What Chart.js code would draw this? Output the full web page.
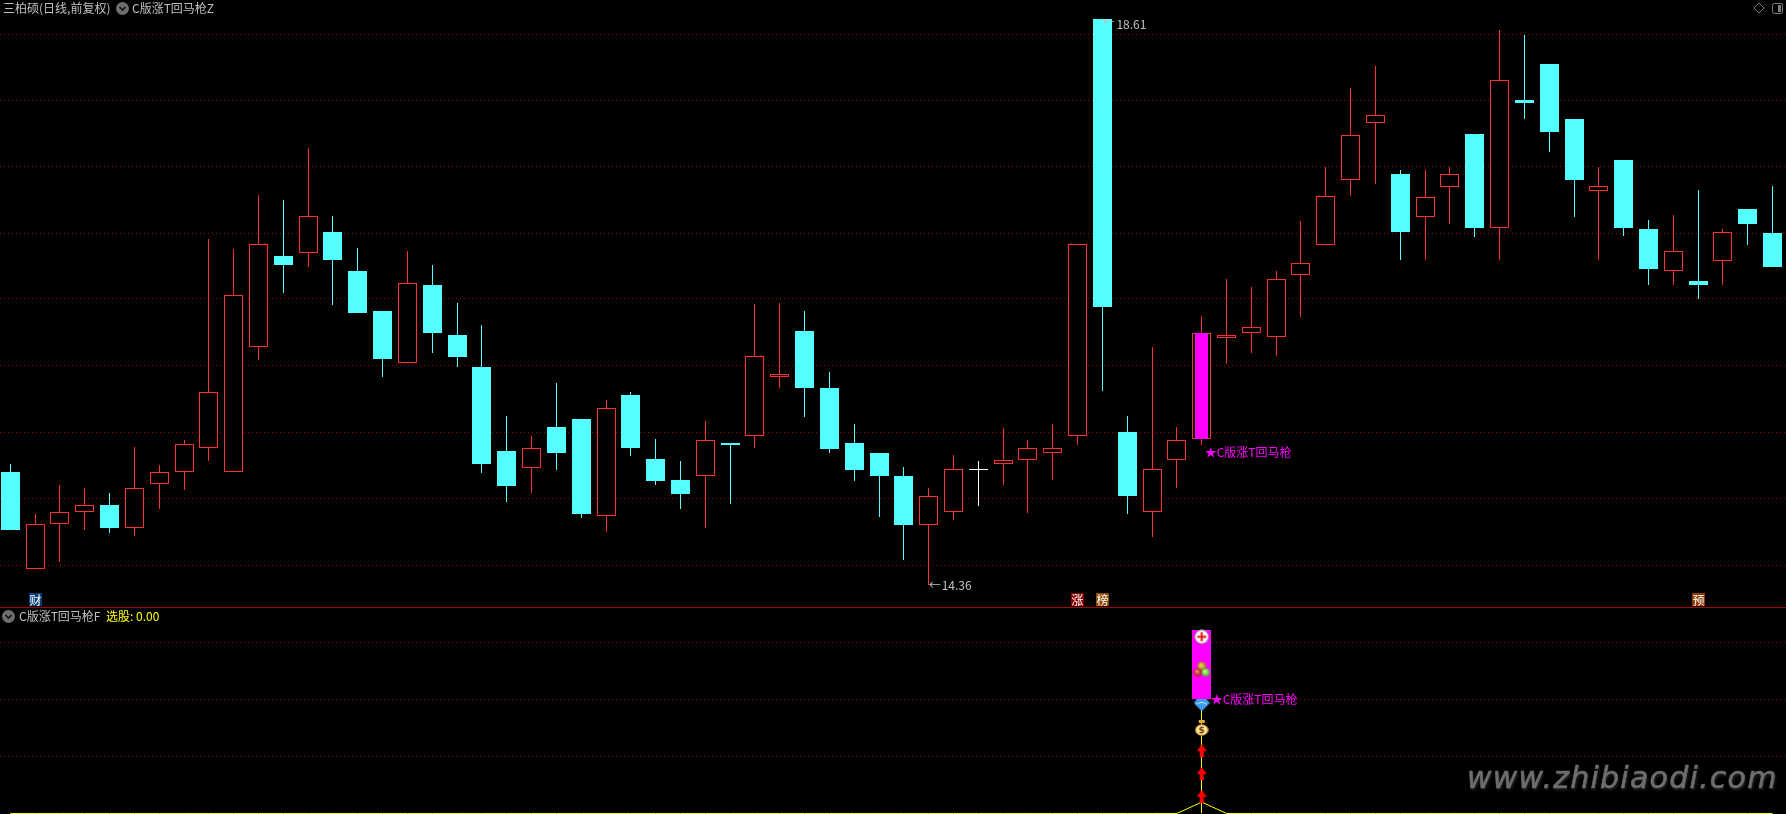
<!DOCTYPE html>
<html>
<head>
<meta charset="utf-8">
<title>C版涨T回马枪</title>
<script src="https://cdn.jsdelivr.net/npm/chart.js@4/dist/chart.umd.min.js"></script>
<style>
  html, body { margin: 0; padding: 0; background: #000; overflow: hidden; }
  #page { position: relative; width: 1786px; height: 814px; background: #000; font: 12px "Noto Sans CJK SC", sans-serif; color: #c0c0c0; }
  .box { position: absolute; left: 0; width: 1786px; }
  #boxTop { top: 0; height: 607px; }
  #boxBottom { top: 608px; height: 206px; }
  #separator { position: absolute; left: 0; top: 607px; width: 1786px; height: 1px; background: #a00000; }
  .title { position: absolute; white-space: nowrap; line-height: 16px; }
  .chip { position: absolute; width: 13px; height: 13px; border-radius: 50%; background: #6e6e6e; }
  .chip svg { display: block; }
  #watermark { position: absolute; left: 1467px; top: 760px; font: italic 30px/36px "DejaVu Sans", sans-serif; letter-spacing: 1.25px; color: #6e6e6e; -webkit-text-stroke: 0.6px #6e6e6e; text-shadow: 1px 2px 3px #2a2a2a; white-space: nowrap; }
  #corner { position: absolute; left: 1750px; top: 0; }
</style>
</head>
<body>
<div id="page">
  <div class="box" id="boxTop"><canvas id="chartPrice"></canvas></div>
  <div id="separator"></div>
  <div class="box" id="boxBottom"><canvas id="chartSignal"></canvas></div>

  <div class="title" style="left:3px;top:0">三柏硕(日线,前复权)</div>
  <div class="chip" style="left:116px;top:2px"><svg width="13" height="13"><path d="M3.5 5 L6.5 8 L9.5 5" stroke="#111" stroke-width="1.6" fill="none"/></svg></div>
  <div class="title" style="left:132px;top:0">C版涨T回马枪Z</div>
  <div class="chip" style="left:2px;top:610px"><svg width="13" height="13"><path d="M3.5 5 L6.5 8 L9.5 5" stroke="#111" stroke-width="1.6" fill="none"/></svg></div>
  <div class="title" style="left:19px;top:608px">C版涨T回马枪F</div>
  <div class="title" style="left:106px;top:608px;color:#ffff00">选股: 0.00</div>
  <svg id="corner" width="36" height="18">
    <path d="M9 3 L14 8 L9 13 L4 8 Z" stroke="#808080" fill="none"/>
    <rect x="22.5" y="3.5" width="10" height="10" rx="2" stroke="#808080" fill="none"/>
    <rect x="28" y="5" width="3" height="7" fill="#808080"/>
  </svg>
  <div id="watermark">www.zhibiaodi.com</div>
</div>

<script>
// candles, oldest first
const opens = [15.21,14.48,14.82,14.91,14.96,14.79,15.12,15.21,15.39,15.21,16.15,16.83,16.85,17.01,16.72,16.42,16.03,16.61,16.24,16.00,15.37,15.24,15.55,15.61,14.88,15.79,15.31,15.15,15.18,15.43,15.48,15.922,16.27,15.84,15.43,15.35,15.18,14.81,14.91,15.23,15.27,15.30,15.35,15.48,18.61,15.51,14.91,15.30,15.46,16.215,16.25,16.22,16.69,16.91,17.40,17.83,17.45,17.12,17.35,17.75,17.04,18.00,18.27,17.86,17.32,17.55,17.03,16.72,16.64,16.79,17.18,17.00];
const closes = [14.77,14.82,14.91,14.96,14.79,15.09,15.21,15.42,15.81,16.54,16.92,16.76,17.13,16.80,16.40,16.06,16.63,16.25,16.07,15.27,15.10,15.39,15.35,14.89,15.69,15.39,15.14,15.04,15.45,15.41,16.08,15.945,15.84,15.38,15.22,15.18,14.81,15.03,15.23,15.23,15.30,15.39,15.39,16.92,16.45,15.03,15.23,15.45,16.25,16.24,16.30,16.66,16.78,17.28,17.74,17.89,17.01,17.27,17.45,17.04,18.15,17.98,17.76,17.40,17.36,17.04,16.73,16.87,16.61,17.01,17.07,16.75];
const highs = [15.27,14.89,15.11,15.09,15.05,15.40,15.26,15.45,16.96,16.88,17.29,17.25,17.64,17.13,16.89,16.42,16.87,16.76,16.48,16.31,15.63,15.48,15.88,15.61,15.75,15.81,15.46,15.29,15.59,15.43,16.47,16.48,16.42,15.96,15.57,15.35,15.25,15.09,15.34,15.29,15.54,15.45,15.57,16.92,18.61,15.63,16.15,15.55,16.38,16.66,16.60,16.72,17.09,17.50,18.09,18.26,17.48,17.48,17.50,17.75,18.53,18.49,18.27,17.86,17.50,17.55,17.10,17.14,17.33,17.03,17.18,17.36];
const lows = [14.77,14.48,14.53,14.77,14.75,14.73,14.93,15.07,15.29,15.21,16.05,16.55,16.75,16.46,16.40,15.92,16.03,16.10,16.00,15.20,14.98,15.05,15.22,14.86,14.76,15.33,15.11,14.93,14.79,14.97,15.39,15.84,15.62,15.35,15.14,14.87,14.55,14.36,14.85,14.95,15.11,14.90,15.15,15.41,15.82,14.89,14.72,15.09,15.41,16.02,16.10,16.08,16.37,16.91,17.28,17.37,16.80,16.80,17.07,16.97,16.80,17.86,17.61,17.12,16.80,16.98,16.61,16.61,16.51,16.61,16.91,16.75];
const priceGrid = [18.497,18.002,17.499,17.003,16.508,16.005,15.509,15.006,14.51];

// the day the formula fires
const signalDay = 48;
const signalBody = [15.46, 16.25];

// lower panel
const signalValues = [0,0,0,0,0,0,0,0,0,0,0,0,0,0,0,0,0,0,0,0,0,0,0,0,0,0,0,0,0,0,0,0,0,0,0,0,0,0,0,0,0,0,0,0,0,0,0,0,0.2,0,0,0,0,0,0,0,0,0,0,0,0,0,0,0,0,0,0,0,0,0,0,0];
const signalStick = [0, 1.9];
const signalBar = [2.0, 3.22];
const iconLevels = [3.1, 2.53, 1.9, 1.5, 1.1, 0.7, 0.3];
const signalGrid = [1, 2, 3];

// badges under the candles
const badgeDays = [1, 43, 44, 68];
const badgeTexts = ['财', '涨', '榜', '预'];
const badgeColors = ['#0b3f7a', '#8b0000', '#8b4a00', '#8b3a00'];

const signalLabel = '★C版涨T回马枪';
const highDay = 44;
const highValue = 18.61;
const lowDay = 37;
const lowValue = 14.36;

const RED = '#ff3232';
const CYAN = '#54ffff';
const PINK = '#ff00ff';
const GRID = '#a00000';
const LABEL_FONT = '12px "Noto Sans CJK SC", sans-serif';

const days = opens.map((o, i) => i);

function candleColor(i) {
  if (closes[i] > opens[i]) return RED;
  if (closes[i] < opens[i]) return CYAN;
  return '#ffffff';
}

// keep bars on whole pixels, like the terminal does
const snapBars = {
  id: 'snapBars',
  afterDatasetsUpdate(chart) {
    chart.getSortedVisibleDatasetMetas().forEach(meta => {
      if (meta.type !== 'bar') return;
      meta.data.forEach(el => {
        if (el.skip) return;
        el.x = Math.floor(el.x) + 0.5;
        el.y = Math.round(el.y);
        el.base = Math.round(el.base);
        if (el.base === el.y) el.base = el.y + 1;
      });
    });
  }
};

const priceMarks = {
  id: 'priceMarks',
  afterDatasetsDraw(chart) {
    const ctx = chart.ctx;
    const x = chart.scales.x;
    const y = chart.scales.y;
    ctx.save();
    ctx.font = LABEL_FONT;
    ctx.textBaseline = 'middle';

    // highest and lowest price
    ctx.fillStyle = '#c0c0c0';
    ctx.fillText('←', x.getPixelForValue(highDay), y.getPixelForValue(highValue) + 3);
    ctx.fillText(highValue.toFixed(2), x.getPixelForValue(highDay) + 14, y.getPixelForValue(highValue) + 5);
    ctx.fillText('←', x.getPixelForValue(lowDay), y.getPixelForValue(lowValue));
    ctx.fillText(lowValue.toFixed(2), x.getPixelForValue(lowDay) + 13, y.getPixelForValue(lowValue));

    ctx.fillStyle = PINK;
    ctx.fillText(signalLabel, x.getPixelForValue(signalDay) + 3, y.getPixelForValue(signalBody[0]) + 14);

    badgeDays.forEach((day, i) => {
      const cx = Math.floor(x.getPixelForValue(day)) + 0.5;
      ctx.fillStyle = badgeColors[i];
      ctx.fillRect(cx - 6.5, 593, 13, 13);
      ctx.fillStyle = '#ffffff';
      ctx.textAlign = 'center';
      ctx.fillText(badgeTexts[i], cx, 600);
      ctx.textAlign = 'left';
    });
    ctx.restore();
  }
};

const signalMarks = {
  id: 'signalMarks',
  afterDatasetsDraw(chart) {
    const ctx = chart.ctx;
    ctx.save();
    ctx.font = LABEL_FONT;
    ctx.textBaseline = 'middle';
    ctx.fillStyle = PINK;
    ctx.fillText(signalLabel, chart.scales.x.getPixelForValue(signalDay) + 9, chart.scales.y.getPixelForValue(signalBar[0]));
    ctx.restore();
  }
};

// small pictures for the lower panel
function newIcon(w, h, draw) {
  const c = document.createElement('canvas');
  c.width = w;
  c.height = h;
  draw(c.getContext('2d'));
  return c;
}

function ball(ctx, x, y, r, light, dark) {
  const g = ctx.createRadialGradient(x - 1, y - 1, 0.5, x, y, r);
  g.addColorStop(0, light);
  g.addColorStop(1, dark);
  ctx.fillStyle = g;
  ctx.beginPath();
  ctx.arc(x, y, r, 0, Math.PI * 2);
  ctx.fill();
}

const crossIcon = newIcon(15, 15, ctx => {
  ctx.fillStyle = '#ffffff';
  ctx.strokeStyle = '#8a8a8a';
  ctx.beginPath();
  ctx.arc(7.5, 7.5, 6.8, 0, Math.PI * 2);
  ctx.fill();
  ctx.stroke();
  ctx.fillStyle = '#e01010';
  ctx.fillRect(3, 6.5, 9, 2);
  ctx.fillRect(6.5, 3, 2, 9);
});

const ballsIcon = newIcon(17, 16, ctx => {
  ball(ctx, 8.5, 4.8, 4.4, '#f0d060', '#a07818');
  ball(ctx, 4.5, 11, 4.2, '#f08080', '#b01818');
  ball(ctx, 12.5, 11, 4.2, '#c8f8a0', '#40b020');
});

const diamondIcon = newIcon(16, 12, ctx => {
  ctx.fillStyle = '#3f9cf0';
  ctx.beginPath();
  ctx.moveTo(3, 0);
  ctx.lineTo(13, 0);
  ctx.lineTo(16, 4);
  ctx.lineTo(8, 12);
  ctx.lineTo(0, 4);
  ctx.closePath();
  ctx.fill();
  ctx.strokeStyle = '#cfe8ff';
  ctx.beginPath();
  ctx.moveTo(3, 5);
  ctx.quadraticCurveTo(8, 1.5, 13, 5);
  ctx.stroke();
});

const bagIcon = newIcon(14, 16, ctx => {
  ctx.fillStyle = '#e0b030';
  ctx.fillRect(4, 0, 6, 3);
  ctx.fillStyle = '#ffe98a';
  ctx.strokeStyle = '#a06030';
  ctx.beginPath();
  ctx.ellipse(7, 10, 6.4, 5.4, 0, 0, Math.PI * 2);
  ctx.fill();
  ctx.stroke();
  ctx.fillStyle = '#703020';
  ctx.font = 'bold 9px "DejaVu Sans", sans-serif';
  ctx.textAlign = 'center';
  ctx.textBaseline = 'middle';
  ctx.fillText('$', 7, 10.5);
});

const arrowIcon = newIcon(10, 13, ctx => {
  ctx.fillStyle = '#ff0000';
  ctx.beginPath();
  ctx.moveTo(5, 0);
  ctx.lineTo(10, 7);
  ctx.lineTo(7, 7);
  ctx.lineTo(7, 13);
  ctx.lineTo(3, 13);
  ctx.lineTo(3, 7);
  ctx.lineTo(0, 7);
  ctx.closePath();
  ctx.fill();
});

const iconStyles = [crossIcon, ballsIcon, diamondIcon, bagIcon, arrowIcon, arrowIcon, arrowIcon];

function axes(minY, maxY, gridValues) {
  return {
    x: { type: 'linear', display: false, offset: false, min: -0.415, max: 71.54, grid: { display: false } },
    y: {
      min: minY,
      max: maxY,
      afterBuildTicks: scale => { scale.ticks = gridValues.map(v => ({ value: v })); },
      ticks: { display: false, padding: 0 },
      grid: { color: GRID, drawTicks: false, tickLength: 0 },
      border: { display: false, dash: [1, 3] }
    }
  };
}

const baseOptions = {
  responsive: false,
  animation: false,
  events: [],
  layout: { padding: 0, autoPadding: false },
  plugins: { legend: { display: false }, tooltip: { enabled: false } }
};

const canvasPrice = document.getElementById('chartPrice');
canvasPrice.width = 1786;
canvasPrice.height = 607;

new Chart(canvasPrice, {
  type: 'bar',
  data: {
    datasets: [
      {
        label: 'signal',
        data: [{ x: signalDay, y: signalBody }],
        backgroundColor: PINK,
        borderWidth: 0,
        inflateAmount: 0,
        barThickness: 13,
        grouped: false,
        order: 1
      },
      {
        label: 'body',
        data: days.map(i => ({ x: i, y: [opens[i], closes[i]] })),
        backgroundColor: days.map(i => (closes[i] < opens[i] ? CYAN : '#000000')),
        borderColor: days.map(candleColor),
        borderWidth: 1,
        borderSkipped: false,
        inflateAmount: 0,
        barThickness: 19,
        grouped: false,
        order: 2
      },
      {
        label: 'wick',
        data: days.map(i => ({ x: i, y: [lows[i], highs[i]] })),
        backgroundColor: days.map(candleColor),
        borderWidth: 0,
        inflateAmount: 0,
        barThickness: 1,
        grouped: false,
        order: 3
      }
    ]
  },
  options: { ...baseOptions, scales: axes(14.195, 18.753, priceGrid) },
  plugins: [snapBars, priceMarks]
});

const canvasSignal = document.getElementById('chartSignal');
canvasSignal.width = 1786;
canvasSignal.height = 206;

new Chart(canvasSignal, {
  type: 'bar',
  data: {
    datasets: [
      {
        type: 'line',
        label: 'icons',
        data: iconLevels.map(v => ({ x: signalDay, y: v })),
        showLine: false,
        pointStyle: iconStyles,
        pointRadius: 6,
        order: 1
      },
      {
        label: 'bar',
        data: [{ x: signalDay, y: signalBar }],
        backgroundColor: PINK,
        borderWidth: 0,
        inflateAmount: 0,
        barThickness: 19,
        grouped: false,
        order: 2
      },
      {
        label: 'stick',
        data: [{ x: signalDay, y: signalStick }],
        backgroundColor: '#ffff00',
        borderWidth: 0,
        inflateAmount: 0,
        barThickness: 1,
        grouped: false,
        order: 3
      },
      {
        type: 'line',
        label: '选股',
        data: days.map(i => ({ x: i, y: signalValues[i] })),
        borderColor: '#ffff00',
        borderWidth: 1,
        pointRadius: 0,
        tension: 0,
        order: 4
      }
    ]
  },
  options: { ...baseOptions, scales: axes(-0.009, 3.605, signalGrid) },
  plugins: [snapBars, signalMarks]
});
</script>
</body>
</html>
